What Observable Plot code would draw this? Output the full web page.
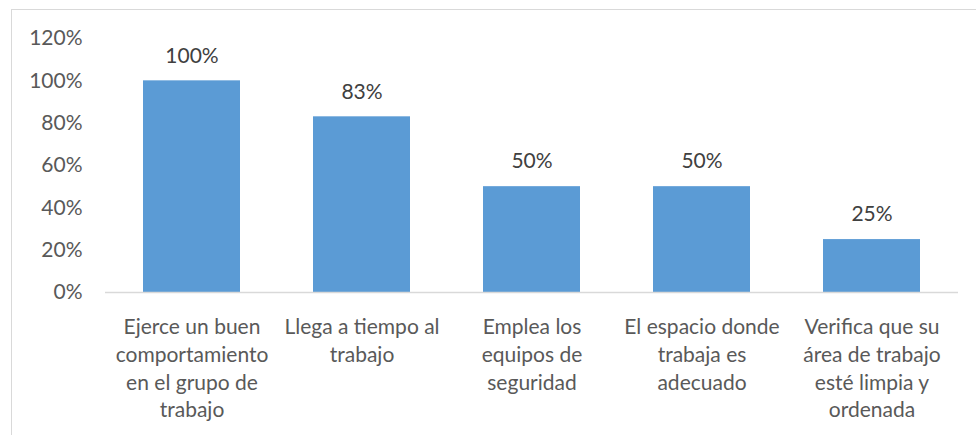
<!DOCTYPE html>
<html>
<head>
<meta charset="utf-8">
<script src="https://cdn.jsdelivr.net/npm/d3@7"></script>
<script src="https://cdn.jsdelivr.net/npm/@observablehq/plot@0.6"></script>
<style>
  html, body { margin: 0; padding: 0; background: #fff; }
  #wrap { position: relative; width: 976px; height: 435px; overflow: hidden; }
  #frame { position: absolute; left: 11px; top: 9px; width: 1000px; height: 500px; border-top: 1px solid #d9d9d9; border-left: 1px solid #d9d9d9; }
  #chart { position: absolute; left: 0; top: 0; }
</style>
</head>
<body>
<div id="wrap"><div id="frame"></div><div id="chart"></div></div>
<script>
const categories = [
  "Ejerce un buen\ncomportamiento\nen el grupo de\ntrabajo",
  "Llega a tiempo al\ntrabajo",
  "Emplea los\nequipos de\nseguridad",
  "El espacio donde\ntrabaja es\nadecuado",
  "Verifica que su\nárea de trabajo\nesté limpia y\nordenada"
];
const values = [1.00, 0.83, 0.50, 0.50, 0.25];
const yTicks = [0, 0.2, 0.4, 0.6, 0.8, 1.0, 1.2];

const data = categories.map((c, i) => ({cat: c, v: values[i]}));
const pct = d => Math.round(d * 100) + "%";
const FS = 21;

const chart = Plot.plot({
  width: 976,
  height: 435,
  marginLeft: 105,
  marginRight: 18,
  marginTop: 38,
  marginBottom: 143,
  style: {fontFamily: "Lato, 'Open Sans', sans-serif", fontSize: FS + "px", color: "#595959", background: "transparent"},
  x: {domain: categories, paddingInner: 0.43, paddingOuter: 0.215, label: null},
  y: {domain: [0, 1.2], label: null},
  marks: [
    Plot.axisY({ticks: yTicks, tickFormat: pct, tickSize: 0, tickPadding: 23, fontSize: FS, fill: "#595959"}),
    Plot.axisX({tickSize: 0, tickPadding: 22, lineHeight: 1.32, fontSize: FS, fill: "#595959"}),
    Plot.barY(data, {x: "cat", y: "v", fill: "#5b9bd5"}),
    Plot.ruleY([0], {stroke: "#d9d9d9", strokeWidth: 1.5}),
    Plot.text(data, {x: "cat", y: "v", text: d => pct(d.v), dy: -25, fontSize: FS, fill: "#404040"})
  ]
});
document.getElementById("chart").appendChild(chart);
</script>
</body>
</html>
